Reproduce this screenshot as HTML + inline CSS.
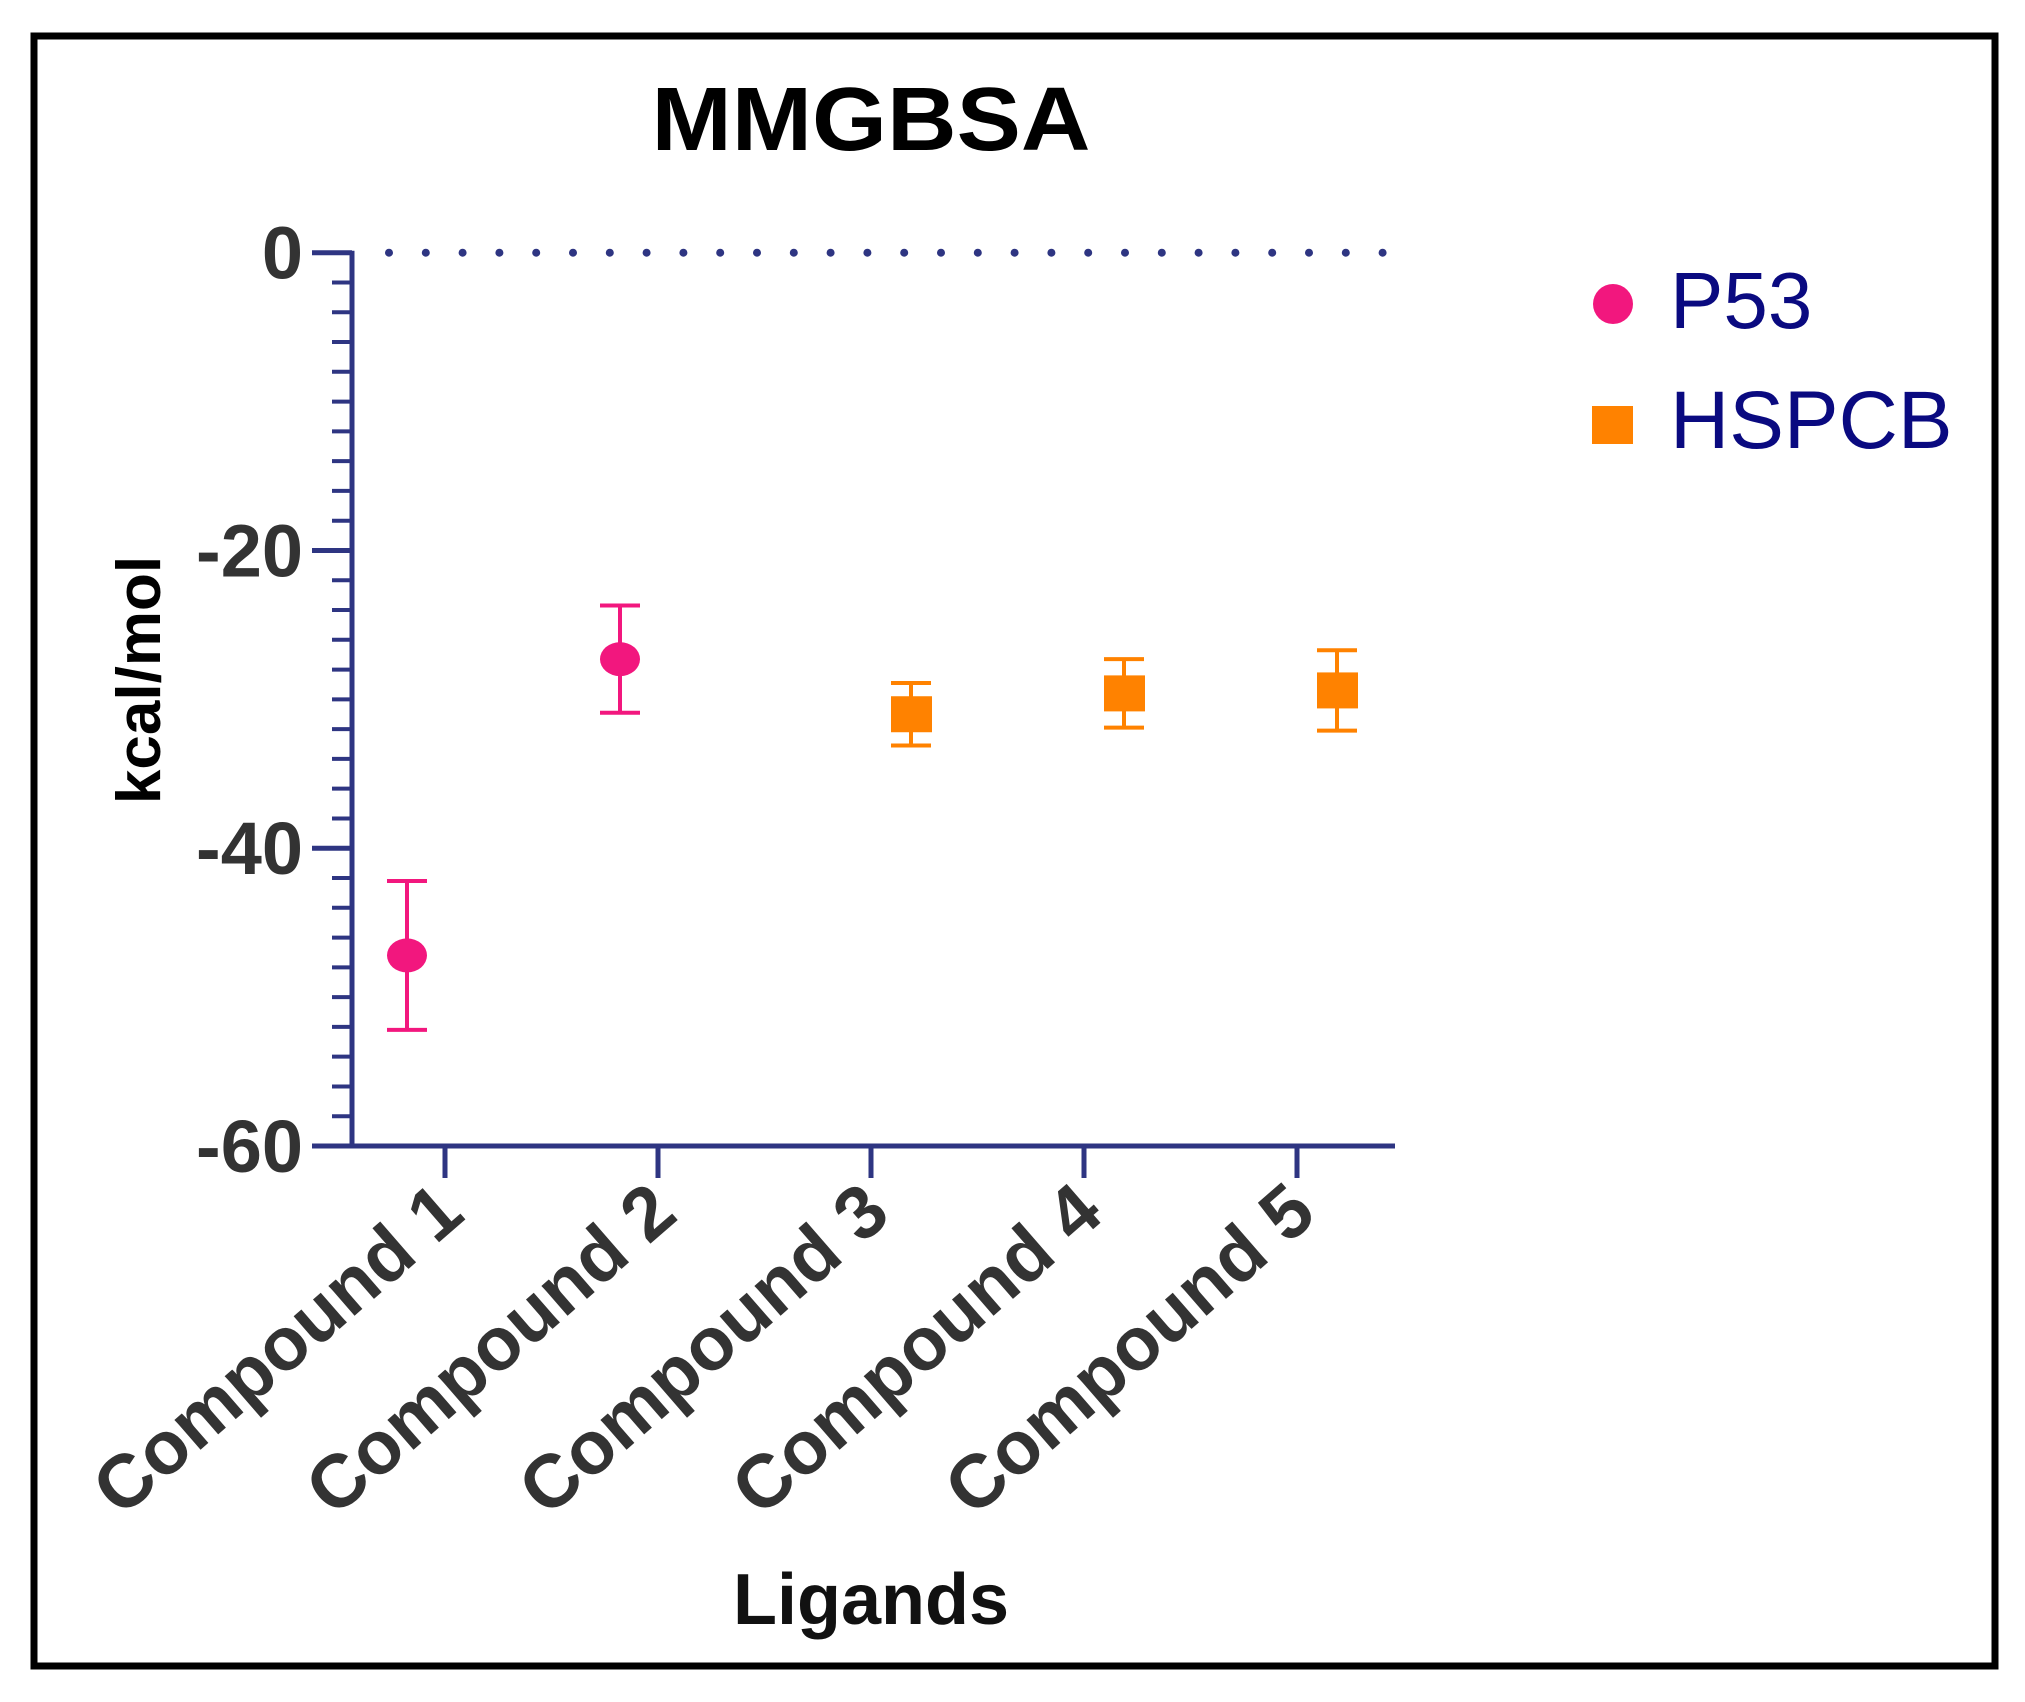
<!DOCTYPE html>
<html><head><meta charset="utf-8"><style>
html,body{margin:0;padding:0;background:#fff;}
svg{display:block;font-family:"Liberation Sans",Arial,sans-serif;}
</style></head><body>
<svg id="chart" width="2025" height="1702" viewBox="0 0 2025 1702" xmlns="http://www.w3.org/2000/svg">
<rect x="34" y="36" width="1961" height="1630" fill="none" stroke="#000" stroke-width="7"/>
<text x="871" y="150" font-size="90" font-weight="bold" text-anchor="middle" textLength="439" lengthAdjust="spacingAndGlyphs" fill="#000">MMGBSA</text>
<text transform="translate(160,680) rotate(-90)" font-size="62" font-weight="bold" text-anchor="middle" fill="#000">kcal/mol</text>
<text x="871" y="1624" font-size="72" font-weight="bold" text-anchor="middle" fill="#111">Ligands</text>
<g id="axes"></g>
<g id="marks"></g>
<g>
<circle cx="1613" cy="304" r="20" fill="#f2177e"/>
<text x="1670" y="328" font-size="80" fill="#0a0a80">P53</text>
<rect x="1592" y="406" width="41" height="38" fill="#ff8200"/>
<text x="1670" y="448" font-size="82" fill="#0a0a80">HSPCB</text>
</g>
</svg>
<script>
const categories = ["Compound 1","Compound 2","Compound 3","Compound 4","Compound 5"];
const seriesName = ["P53","P53","HSPCB","HSPCB","HSPCB"];
const means = [-47.2, -27.3, -31.0, -29.6, -29.4];
const errors = [5.0, 3.6, 2.1, 2.3, 2.7];
const majorTicks = [0, -20, -40, -60];
const tickLabels = ["0","-20","-40","-60"];

const NS = "http://www.w3.org/2000/svg";
const yTop = 252.7, yBot = 1146, yMin = -60, yMax = 0;
function yScale(v){ return yTop + (yMax - v) / (yMax - yMin) * (yBot - yTop); }
const xStart = 445, xStep = 213;
function xScale(i){ return xStart + i * xStep; }
const AX = "#2e3582";
const axes = document.getElementById("axes");
const marks = document.getElementById("marks");
function mk(tag, attrs, parent){
  const e = document.createElementNS(NS, tag);
  for (const k in attrs) e.setAttribute(k, attrs[k]);
  parent.appendChild(e);
  return e;
}
let zl = mk("line",{x1:389,y1:yScale(0),x2:1400,y2:yScale(0),stroke:AX,"stroke-width":8,"stroke-linecap":"round","stroke-dasharray":"0 36.8"},axes);


let ya = mk("line",{x1:352,y1:yScale(0)-2,x2:352,y2:yBot+2,stroke:AX,"stroke-width":5},axes);


let xa = mk("line",{x1:312,y1:yBot,x2:1395,y2:yBot,stroke:AX,"stroke-width":5},axes);


for (let v = -2; v > -60; v -= 2) {
  if (v % 20 === 0) continue;
  let t = mk("line",{x1:332,y1:yScale(v),x2:352,y2:yScale(v),stroke:AX,"stroke-width":4},axes);
  
  
}
majorTicks.forEach((v,i)=>{
  let t = mk("line",{x1:312,y1:yScale(v),x2:352,y2:yScale(v),stroke:AX,"stroke-width":5},axes);
  
  
  let lb = mk("text",{x:303,y:yScale(v)+26,"font-size":74,"font-weight":"bold","text-anchor":"end",fill:"#333"},axes);
  lb.textContent = tickLabels[i];
  
  
});
categories.forEach((c,i)=>{
  const x = xScale(i);
  let t = mk("line",{x1:x,y1:yBot,x2:x,y2:1178,stroke:AX,"stroke-width":5},axes);
  
  
  let lb = mk("text",{transform:`translate(${x+22},1218) rotate(-41)`,"font-size":75,"font-weight":"bold","text-anchor":"end",fill:"#333"},axes);
  lb.textContent = c;
  
  
});
categories.forEach((c,i)=>{
  const isP = seriesName[i] === "P53";
  const col = isP ? "#f2177e" : "#ff8200";
  const x = xScale(i) + (isP ? -38 : 40);
  const yc = yScale(means[i]), y1 = yScale(means[i]+errors[i]), y2 = yScale(means[i]-errors[i]);
  const g = mk("g",{},marks);
  
  
  let eb = mk("path",{d:`M${x},${y1}V${y2}M${x-20},${y1}H${x+20}M${x-20},${y2}H${x+20}`,stroke:col,"stroke-width":4,fill:"none"},g);
  
  
  let m;
  if (isP) m = mk("ellipse",{cx:x,cy:yc,rx:20,ry:17,fill:col},g);
  else m = mk("rect",{x:x-20,y:yc-18,width:41,height:36,fill:col},g);
  
  
});
</script>
</body></html>
